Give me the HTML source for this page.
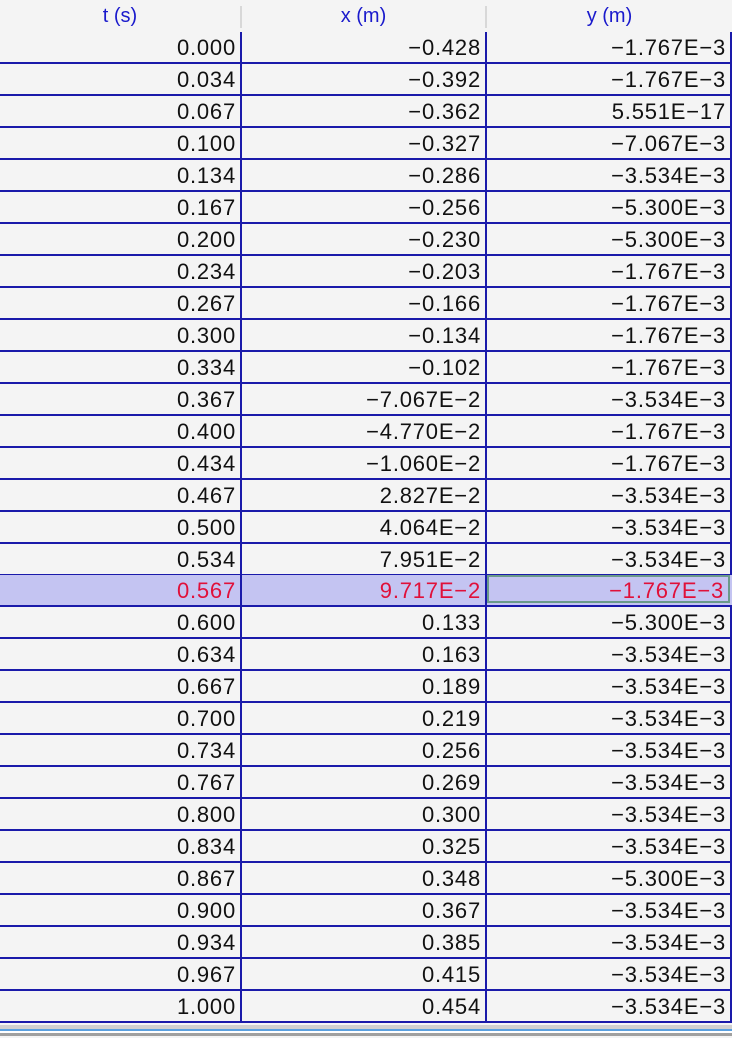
<!DOCTYPE html>
<html><head><meta charset="utf-8"><style>
body{margin:0;width:732px;height:1038px;background:#f4f4f4;overflow:hidden;font-family:"Liberation Sans","DejaVu Sans",sans-serif;position:relative}
.hdr{position:absolute;top:0;height:32px;line-height:32px;text-align:center;color:#1a1acc;font-size:20px}
.hsep{position:absolute;top:6px;height:22px;width:2px;background:#d8d8d8}
.row{position:absolute;left:0;width:732px;height:32px;border-bottom:2px solid #1a1aaa;box-sizing:border-box}
.cell{position:absolute;top:0;height:30px;line-height:31px;text-align:right;font-size:22px;color:#111;box-sizing:border-box;padding-right:4px;border-right:2px solid #1a1aaa;letter-spacing:0.8px}
.sel{background:#c4c4f2}
.sel .cell{color:#e0103a}
</style></head><body>
<div class="hdr" style="left:0;width:240px">t (s)</div>
<div class="hsep" style="left:240px"></div>
<div class="hdr" style="left:242px;width:243px">x (m)</div>
<div class="hsep" style="left:485px"></div>
<div class="hdr" style="left:487px;width:245px">y (m)</div>
<div id="rows"></div>
<div style="position:absolute;top:1025px;left:0;width:732px;height:4px;background:#d0d0d0"></div>
<div style="position:absolute;top:1029px;left:0;width:732px;height:2px;background:#5aa0e0"></div>
<div style="position:absolute;top:1031px;left:0;width:732px;height:2px;background:#fff"></div>
<div style="position:absolute;top:1033px;left:0;width:732px;height:3px;background:#a0a0a0"></div>
<script>
const tVals=["0.000","0.034","0.067","0.100","0.134","0.167","0.200","0.234","0.267","0.300","0.334","0.367","0.400","0.434","0.467","0.500","0.534","0.567","0.600","0.634","0.667","0.700","0.734","0.767","0.800","0.834","0.867","0.900","0.934","0.967","1.000"];
const xVals=["-0.428","-0.392","-0.362","-0.327","-0.286","-0.256","-0.230","-0.203","-0.166","-0.134","-0.102","-7.067E-2","-4.770E-2","-1.060E-2","2.827E-2","4.064E-2","7.951E-2","9.717E-2","0.133","0.163","0.189","0.219","0.256","0.269","0.300","0.325","0.348","0.367","0.385","0.415","0.454"];
const yVals=["-1.767E-3","-1.767E-3","5.551E-17","-7.067E-3","-3.534E-3","-5.300E-3","-5.300E-3","-1.767E-3","-1.767E-3","-1.767E-3","-1.767E-3","-3.534E-3","-1.767E-3","-1.767E-3","-3.534E-3","-3.534E-3","-3.534E-3","-1.767E-3","-5.300E-3","-3.534E-3","-3.534E-3","-3.534E-3","-3.534E-3","-3.534E-3","-3.534E-3","-3.534E-3","-5.300E-3","-3.534E-3","-3.534E-3","-3.534E-3","-3.534E-3"];
const selected=17;
const cont=document.getElementById('rows');
const m=s=>s.replace(/-/g,'\u2212');
for(let i=0;i<tVals.length;i++){
  const r=document.createElement('div');
  r.className='row'+(i===selected?' sel':'');
  r.style.top=Math.round(32+i*31.97)+'px';
  
  
  const cols=[[0,242,tVals[i]],[242,245,xVals[i]],[487,245,yVals[i]]];
  cols.forEach((c,j)=>{
    const d=document.createElement('div');
    d.className='cell';
    d.style.left=c[0]+'px';d.style.width=c[1]+'px';
    d.textContent=m(c[2]);
    if(i===selected&&j===2){d.style.border='2px solid #6a9a8a';d.style.height='28px';d.style.lineHeight='28px';d.style.width='243px';}
    
    
    r.appendChild(d);
  });
  cont.appendChild(r);
}
</script>
</body></html>
